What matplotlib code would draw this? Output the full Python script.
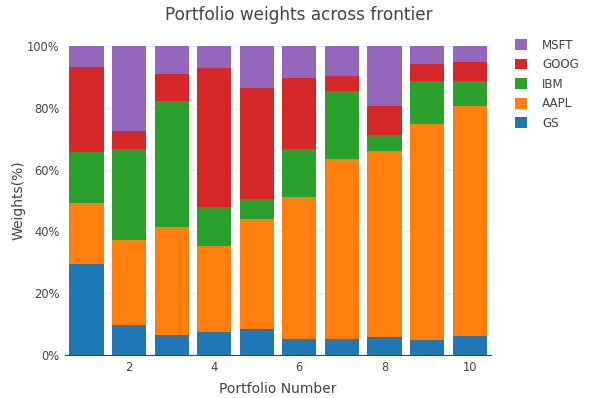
import matplotlib.pyplot as plt
from matplotlib.patches import Patch
from matplotlib.ticker import FuncFormatter

plt.rcParams['font.family'] = ['DejaVu Sans']

portfolios = [1, 2, 3, 4, 5, 6, 7, 8, 9, 10]
gs = [29.5, 9.7, 6.5, 7.4, 8.4, 5.2, 5.2, 5.9, 4.9, 6.3]
aapl = [19.7, 27.5, 34.9, 27.9, 35.6, 45.9, 58.3, 60.2, 70.0, 74.3]
ibm = [16.5, 29.5, 40.8, 12.7, 6.5, 15.6, 21.9, 5.1, 13.8, 8.1]
goog = [27.5, 5.9, 8.8, 44.9, 35.9, 22.9, 4.9, 9.4, 5.5, 6.1]
msft = [6.8, 27.4, 9.0, 7.1, 13.6, 10.4, 9.7, 19.4, 5.8, 5.2]

series = [('GS', gs, '#1f77b4'), ('AAPL', aapl, '#ff7f0e'), ('IBM', ibm, '#2ca02c'),
          ('GOOG', goog, '#d62728'), ('MSFT', msft, '#9467bd')]

fig = plt.figure(figsize=(5.98, 3.98), dpi=100)
ax = fig.add_axes([0.109, 0.108, 0.712, 0.776])

bottom = [0.0] * len(portfolios)
handles = []
for name, vals, color in series:
    ax.bar(portfolios, vals, bottom=bottom, width=0.8, color=color, zorder=2)
    bottom = [b + v for b, v in zip(bottom, vals)]
    handles.append(Patch(facecolor=color, label=name))

ax.set_xlim(0.5, 10.5)
ax.set_ylim(0, 100)
ax.set_xticks([2, 4, 6, 8, 10])
ax.set_yticks([0, 20, 40, 60, 80, 100])
ax.yaxis.set_major_formatter(FuncFormatter(lambda v, p: f'{int(v)}%'))
ax.grid(axis='y', color='#eeeeee', linewidth=1, zorder=0)
for s in ['top', 'right', 'left']:
    ax.spines[s].set_visible(False)
ax.spines['bottom'].set_color('#444444')
ax.tick_params(axis='both', length=0, labelsize=8.3, colors='#444444', pad=4)
ax.set_xlabel('Portfolio Number', fontsize=10, color='#444444', labelpad=6)
ax.set_ylabel('Weights(%)', fontsize=10, color='#444444')
ax.yaxis.set_label_coords(-0.093, 0.5)
fig.suptitle('Portfolio weights across frontier', fontsize=12.2, color='#444444', y=0.985)

ax.legend(handles=handles[::-1], loc='upper left', bbox_to_anchor=(0.843, 0.93),
          bbox_transform=fig.transFigure, frameon=False, fontsize=8.6,
          handlelength=1.0, handleheight=1.0, handletextpad=1.3, labelspacing=0.55,
          labelcolor='#444444')

fig.savefig('out.png', dpi=100)
